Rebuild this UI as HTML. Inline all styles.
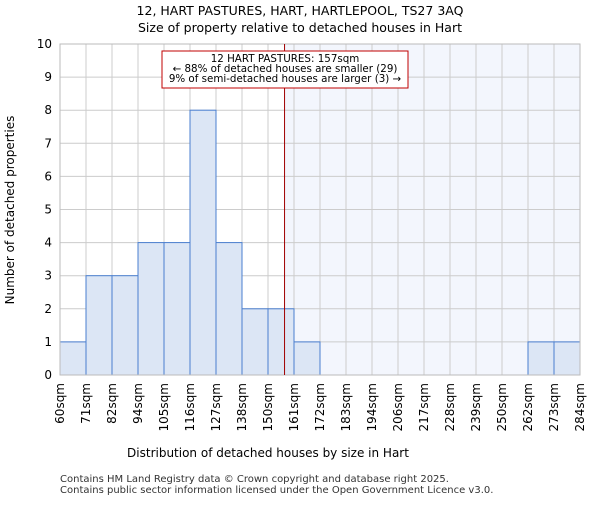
<!DOCTYPE html>
<html><head><meta charset="utf-8"><style>body{margin:0;background:#fff}svg{font-family:"DejaVu Sans","Liberation Sans",sans-serif}</style></head>
<body>
<svg id="c" width="600" height="500">
<text x="300" y="15" text-anchor="middle" font-size="12.5">12, HART PASTURES, HART, HARTLEPOOL, TS27 3AQ</text>
<text x="300" y="32" text-anchor="middle" font-size="12.5">Size of property relative to detached houses in Hart</text>
<g id="plot"></g>
<text x="268" y="457" text-anchor="middle" font-size="12">Distribution of detached houses by size in Hart</text>
<text transform="translate(14,210) rotate(-90)" text-anchor="middle" font-size="12">Number of detached properties</text>
<text x="60" y="482" font-size="10" fill="#333">Contains HM Land Registry data © Crown copyright and database right 2025.</text>
<text x="60" y="493" font-size="10" fill="#333">Contains public sector information licensed under the Open Government Licence v3.0.</text>
</svg>
<script>
const binLabels=["60sqm","71sqm","82sqm","94sqm","105sqm","116sqm","127sqm","138sqm","150sqm","161sqm","172sqm","183sqm","194sqm","206sqm","217sqm","228sqm","239sqm","250sqm","262sqm","273sqm","284sqm"];
const binStarts=[60,71,82,94,105,116,127,138,150,161,172,183,194,206,217,228,239,250,262,273,284];
const counts=[1,3,3,4,4,8,4,2,2,1,0,0,0,0,0,0,0,0,1,1];
const yTicks=[0,1,2,3,4,5,6,7,8,9,10];
const subjectSize=157;
const L=60,R=580,T=44,B=375,yMax=10;
const n=counts.length,bw=(R-L)/n;
const xi=i=>L+i*bw;
const xv=v=>{let i=0;while(i<binStarts.length-2&&v>=binStarts[i+1])i++;return xi(i)+bw*(v-binStarts[i])/(binStarts[i+1]-binStarts[i]);};
const y=v=>B-(B-T)*v/yMax;
const g=document.getElementById('plot');const NS="http://www.w3.org/2000/svg";
function mk(t,a,p){const e=document.createElementNS(NS,t);for(const k in a)e.setAttribute(k,a[k]);(p||g).appendChild(e);return e;}
const sx=xv(subjectSize);
let e=mk('rect',{x:sx,y:T,width:R-sx,height:B-T,fill:'#f3f6fd'});


yTicks.forEach(t=>{let l=mk('line',{x1:L,x2:R,y1:y(t),y2:y(t),stroke:'#ccc'});


let tx=mk('text',{x:L-8,y:y(t)+4,'text-anchor':'end','font-size':12});tx.textContent=t;

});
binLabels.forEach((s,i)=>{let l=mk('line',{x1:xi(i),x2:xi(i),y1:T,y2:B,stroke:'#ccc'});


let tx=mk('text',{'text-anchor':'end','font-size':12,transform:`translate(${xi(i)+4},${B+8}) rotate(-90)`});tx.textContent=s;

});
counts.forEach((c,i)=>{if(!c)return;let r=mk('rect',{x:xi(i),y:y(c),width:bw,height:B-y(c),fill:'#dce6f5',stroke:'#4a7fd0','stroke-width':1});

});
let ax=mk('rect',{x:L,y:T,width:R-L,height:B-T,fill:'none',stroke:'#bbb'});


let ml=mk('line',{x1:sx,x2:sx,y1:T,y2:B,stroke:'#a00000','stroke-width':1});


let box=mk('rect',{x:162,y:51,width:246,height:37,fill:'#fff',stroke:'#c00000'});


["12 HART PASTURES: 157sqm","← 88% of detached houses are smaller (29)","9% of semi-detached houses are larger (3) →"].forEach((s,i)=>{let t=mk('text',{x:285,y:62+i*10,'text-anchor':'middle','font-size':10.3});t.textContent=s;

});
</script>
</body></html>
